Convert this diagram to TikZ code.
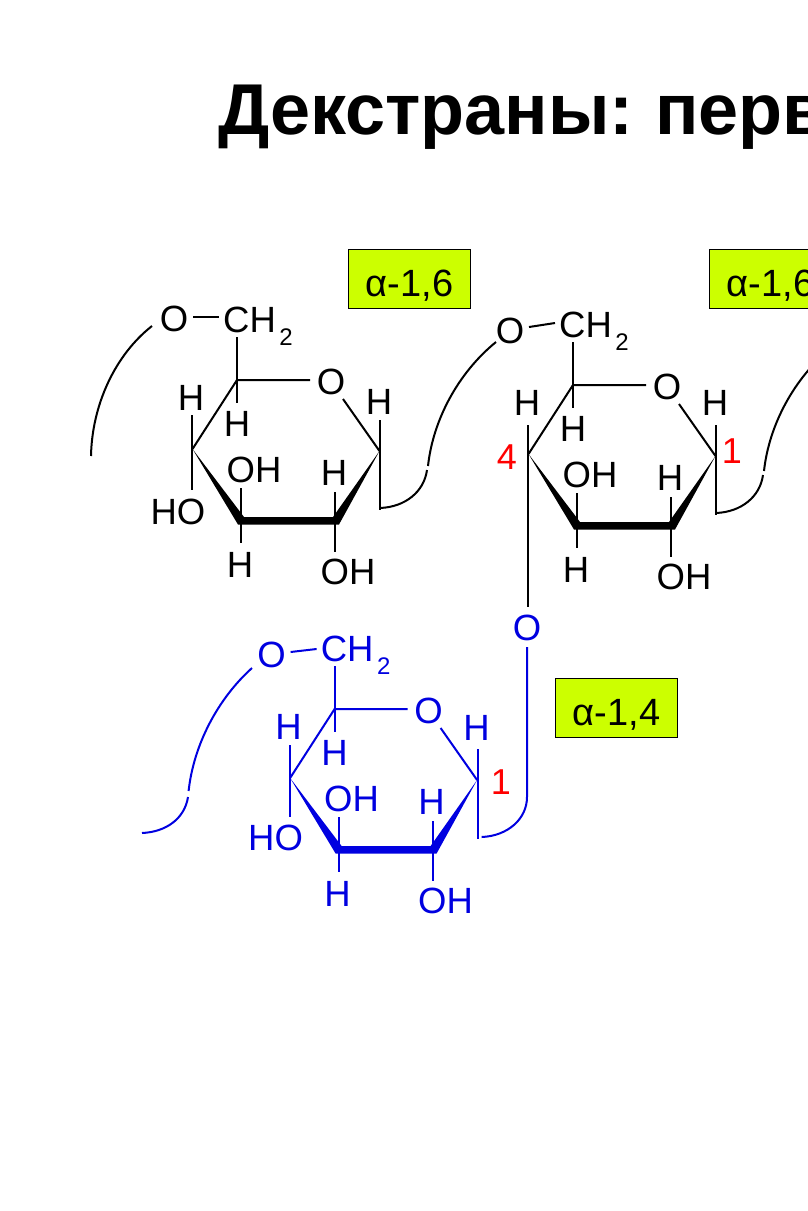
\documentclass[tikz,border=0pt]{standalone}
\usepackage{fontspec}
\setmainfont{Liberation Sans}
\definecolor{lime}{HTML}{CCFF00}
\definecolor{ringblue}{HTML}{0000E0}
\tikzset{
  atom/.style={inner sep=0pt,font=\fontsize{36.5}{36.5}\selectfont},
  chtwo/.style={inner sep=0pt,anchor=base west,font=\fontsize{36.5}{36.5}\selectfont},
  num/.style={inner sep=0pt,text=red,font=\fontsize{36}{36}\selectfont},
  bond/.style={line width=2pt},
  tag/.style={draw=black,line width=1.8pt,fill=lime,minimum width=122pt,minimum height=59pt,inner sep=0pt,font=\fontsize{38}{38}\selectfont},
}
\newcommand{\tagtext}[1]{\raisebox{-17pt}[0pt][0pt]{#1}}
\newcommand{\pyranose}[5]{% prefix, O y, bond y1, bond y2, right H y
  \coordinate (#1c5) at (237,380);
  \coordinate (#1c4) at (192.5,449);
  \coordinate (#1c1) at (379.5,451);
  \coordinate (#1c3) at (241,520);
  \coordinate (#1c2) at (336,520);
  \coordinate (#1ba) at (193,#3);
  \coordinate (#1bb) at (219,#4);
  \coordinate (#1cht) at (237,337);
  \coordinate (#1hb) at (237,403);
  \coordinate (#1ot) at (310,380);
  \coordinate (#1ob) at (343,399);
  \coordinate (#1hrt) at (380,420);
  \coordinate (#1hrb) at (380,510);
  \coordinate (#1h3t) at (241,488);
  \coordinate (#1h3b) at (241,543);
  \coordinate (#1h2t) at (335,492);
  \coordinate (#1h2b) at (335,552);
  \node[atom] (#1Oa) at (174,#2) {O};
  \node[chtwo] (#1CH) at (223,332.5) {CH\kern3.5pt\raisebox{-13pt}{\fontsize{24}{24}\selectfont 2}};
  \node[atom] (#1Or) at (331,382) {O};
  \node[atom] (#1Hl) at (191,398) {H};
  \node[atom] (#1Hi) at (237,424) {H};
  \node[atom] (#1Hr) at (379,#5) {H};
  \node[atom] (#1OHu) at (254,470) {OH};
  \node[atom] (#1Hu) at (334,473) {H};
  \node[atom] (#1Hb) at (240,565) {H};
  \node[atom] (#1OHb) at (348,572) {OH};
  \draw[bond] (#1ba) -- (#1bb);
  \draw[bond] (#1cht) -- (#1hb);
  \draw[bond] (#1ot) -- (#1c5) -- (#1c4);
  \draw[bond] (#1ob) -- (#1c1);
  \draw[bond] (#1hrt) -- (#1hrb);
  \draw[bond] (#1h3t) -- (#1h3b);
  \draw[bond] (#1h2t) -- (#1h2b);
  \fill (#1c4) -- (244,517) -- (333,517) -- (#1c1) -- (339,524.5) -- (238,524.5) -- cycle;
}
\begin{document}
\begin{tikzpicture}[x=1pt,y=-1pt]
\clip (0,0) rectangle (808,1211);
\fill[white] (0,0) rectangle (808,1211);
\node[inner sep=0pt,anchor=base west,font=\fontsize{72}{72}\selectfont\bfseries] (title) at (218,134) {Декстраны: \kern-5pt перв};

\node[tag] (tagA) at (409.5,279) {\tagtext{α-1,6}};
\node[tag] (tagB) at (770.5,279) {\tagtext{α-1,6}};
\node[tag] (tagC) at (616.5,708) {\tagtext{α-1,4}};

% ring one
\begin{scope}
  \pyranose{a}{319}{317}{317}{402}
  \node[atom] (aHO) at (178,512) {HO};
  \coordinate (ahl) at (192,415);
  \coordinate (ahd) at (192,490);
  \draw[bond] (ahl) -- (ahd);
  \coordinate (acs) at (152,326);
  \coordinate (ace) at (91,456);
  \draw[bond] (acs) .. controls (115,355) and (92,405) .. (ace);
  \coordinate (als) at (380,508);
  \coordinate (alm) at (427,470);
  \coordinate (aln) at (428,466);
  \coordinate (ale) at (496,342);
  \draw[bond] (als) .. controls (405,507) and (424,492) .. (alm);
  \draw[bond] (aln) .. controls (433,420) and (458,373) .. (ale);
\end{scope}

% ring two
\begin{scope}[shift={(336,5)}]
  \pyranose{b}{326}{322}{318}{398}
  \node[num] (bfour) at (171,452) {4};
  \node[num] (bone) at (396,446) {1};
  \coordinate (bhl) at (191.5,420);
  \coordinate (bld) at (191.5,602);
  \draw[bond] (bhl) -- (bld);
  \coordinate (bls) at (380,508);
  \coordinate (blm) at (427,470);
  \coordinate (bln) at (428,466);
  \coordinate (ble) at (496,342);
  \draw[bond] (bls) .. controls (405,507) and (424,492) .. (blm);
  \draw[bond] (bln) .. controls (433,420) and (458,373) .. (ble);
\end{scope}

% ring three
\begin{scope}[shift={(97.6,329)},color=ringblue]
  \pyranose{c}{326}{323}{320}{399}
  \node[atom] (cHO) at (178,509) {HO};
  \node[num] (cone) at (403.4,453) {1};
  \coordinate (chl) at (192,416);
  \coordinate (chd) at (192,488);
  \draw[bond] (chl) -- (chd);
  \node[atom] (cOl) at (429.4,299) {O};
  \coordinate (cls) at (384,508);
  \coordinate (clm) at (429.4,468);
  \coordinate (clt) at (429.4,318);
  \draw[bond] (clt) -- (clm) .. controls (429.4,490) and (410,507) .. (cls);
  \coordinate (cps) at (44.4,504);
  \coordinate (cpm) at (90.4,468);
  \coordinate (cpn) at (91,462);
  \coordinate (cpe) at (154.4,339);
  \draw[bond] (cps) .. controls (68,503) and (87,490) .. (cpm);
  \draw[bond] (cpn) .. controls (96,416) and (120,370) .. (cpe);
\end{scope}
\end{tikzpicture}
\end{document}
